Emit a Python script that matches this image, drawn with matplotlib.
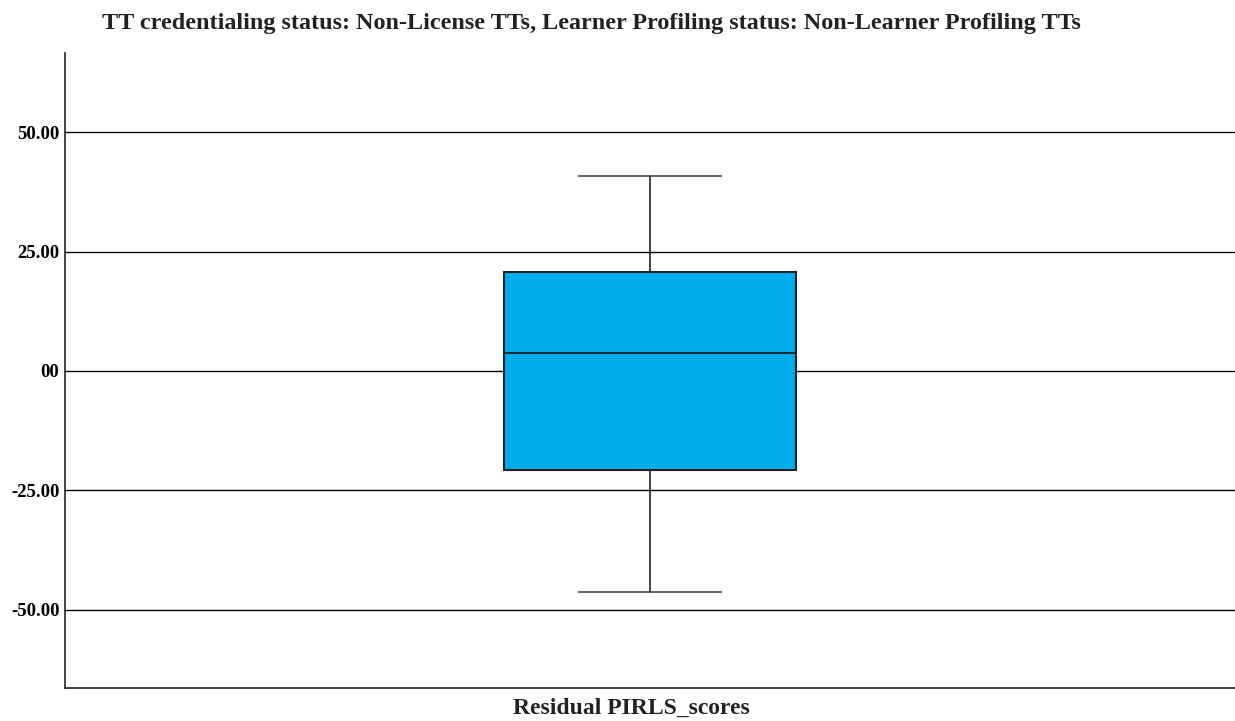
import matplotlib
matplotlib.use("Agg")
import matplotlib.pyplot as plt

# box plot summary for the residual scores
series_label = "Residual PIRLS_scores"
q1 = -20.7
median = 3.8
q3 = 20.7
whisker_low = -46.2
whisker_high = 40.8

y_ticks = [-50, -25, 0, 25, 50]
y_tick_labels = ["-50.00", "-25.00", "00", "25.00", "50.00"]

title = ("TT credentialing status: Non-License TTs, "
         "Learner Profiling status: Non-Learner Profiling TTs")

plt.rcParams["font.family"] = ["Liberation Serif", "DejaVu Serif"]
plt.rcParams["font.weight"] = "bold"

fig = plt.figure(figsize=(12.35, 7.21), dpi=100)
ax = fig.add_axes([0.0526, 0.0458, 0.9474, 0.8807])

stats = [{
    "med": median,
    "q1": q1,
    "q3": q3,
    "whislo": whisker_low,
    "whishi": whisker_high,
    "label": "",
}]

ax.bxp(
    stats,
    positions=[0.0],
    widths=0.249,
    capwidths=0.122,
    showfliers=False,
    patch_artist=True,
    boxprops=dict(facecolor="#00acec", edgecolor="#222222", linewidth=1.5),
    medianprops=dict(color="#222222", linewidth=1.3),
    whiskerprops=dict(color="#222222", linewidth=1.2),
    capprops=dict(color="#444444", linewidth=1.2),
    zorder=3,
)

# horizontal reference lines at each tick
for t in y_ticks:
    ax.axhline(t, color="black", linewidth=1.0, zorder=1)

ax.set_xlim(-0.5, 0.5)
ax.set_ylim(-66.4, 66.6)
ax.set_yticks(y_ticks)
ax.set_yticklabels(y_tick_labels, fontsize=13.5, fontweight="bold")
ax.set_xticks([])
ax.tick_params(axis="y", length=0, pad=4)

for side in ["top", "right"]:
    ax.spines[side].set_visible(False)
for side in ["left", "bottom"]:
    ax.spines[side].set_color("#222222")
    ax.spines[side].set_linewidth(1.2)

fig.text(0.479, 0.967, title, ha="center", va="center",
         fontsize=17.4, fontweight="bold", color="#222222")
fig.text(0.511, 0.018, series_label, ha="center", va="center",
         fontsize=17, fontweight="bold", color="#222222")

fig.savefig("out.png", dpi=100)
